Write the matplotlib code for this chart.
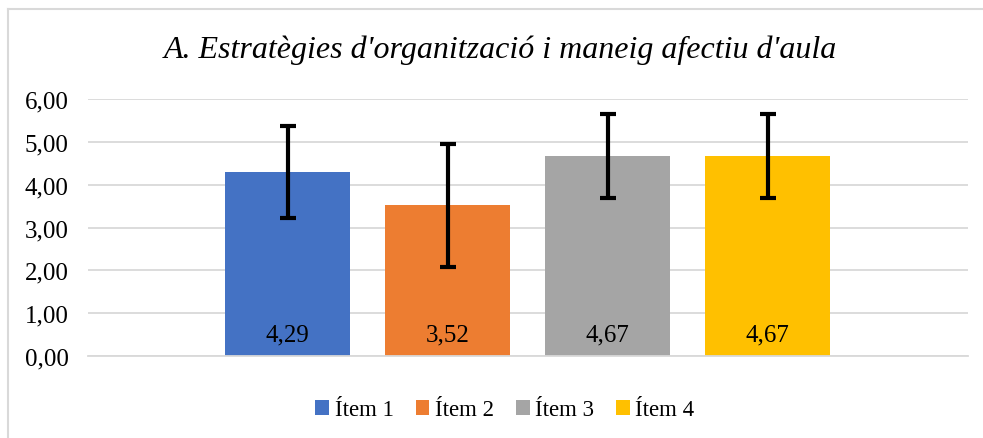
import matplotlib
matplotlib.use("Agg")
import matplotlib.pyplot as plt
from matplotlib.lines import Line2D
from matplotlib.patches import Patch

title = "A. Estratègies d'organització i maneig afectiu d'aula"
series = ["Ítem 1", "Ítem 2", "Ítem 3", "Ítem 4"]
values = [4.29, 3.52, 4.67, 4.67]
errors = [1.07, 1.44, 0.97, 0.97]
labels = ["4,29", "3,52", "4,67", "4,67"]
colors = ["#4472C4", "#ED7D31", "#A5A5A5", "#FFC000"]
yticks = [0, 1, 2, 3, 4, 5, 6]
ytick_labels = ["0,00", "1,00", "2,00", "3,00", "4,00", "5,00", "6,00"]

plt.rcParams['font.family'] = ['Liberation Serif', 'DejaVu Serif']

fig = plt.figure(figsize=(9.83, 4.39), dpi=100)
ax = fig.add_axes([88/983, 1-357/439, 880/983, 257/439])

x = list(range(len(series)))
width = 125/160
for i in x:
    ax.bar(i, values[i], width=width, color=colors[i], zorder=2)
    ax.errorbar(i, values[i], yerr=errors[i], fmt='none', ecolor='black',
                elinewidth=3.0, capsize=6, capthick=3.0, zorder=3)
    ax.text(i, 0.5, labels[i], ha='center', va='center', fontsize=18, color='black', zorder=4)

ax.set_xlim(-1.247, 4.253)
ax.set_ylim(0, 6)
ax.set_yticks(yticks)
ax.set_yticklabels(ytick_labels, fontsize=18)
ax.set_xticks([])
ax.yaxis.grid(True, color='#d9d9d9', linewidth=1.3, zorder=0)
ax.set_axisbelow(True)
for s in ['top', 'right', 'left']:
    ax.spines[s].set_visible(False)
ax.spines['bottom'].set_color('#d9d9d9')
ax.spines['bottom'].set_linewidth(1.3)
ax.tick_params(axis='y', length=0, pad=14)

fig.text(500/983, 1-50/439, title, ha='center', va='center', fontsize=23, style='italic')

handles = [Patch(facecolor=c, edgecolor='none') for c in colors]
fig.legend(handles, series, loc='center', bbox_to_anchor=(505/983, 1-411/439), ncol=4,
           frameon=False, fontsize=16.5, handlelength=0.6, handleheight=0.6,
           handletextpad=0.25, columnspacing=0.95)

# chart border (partially visible left and top)
fig.add_artist(Line2D([8/983, 8/983], [0, 1-10/439], color='#d9d9d9', linewidth=1.5))
fig.add_artist(Line2D([8/983, 1], [1-10/439, 1-10/439], color='#d9d9d9', linewidth=1.5))

fig.savefig("out.png", dpi=100)
